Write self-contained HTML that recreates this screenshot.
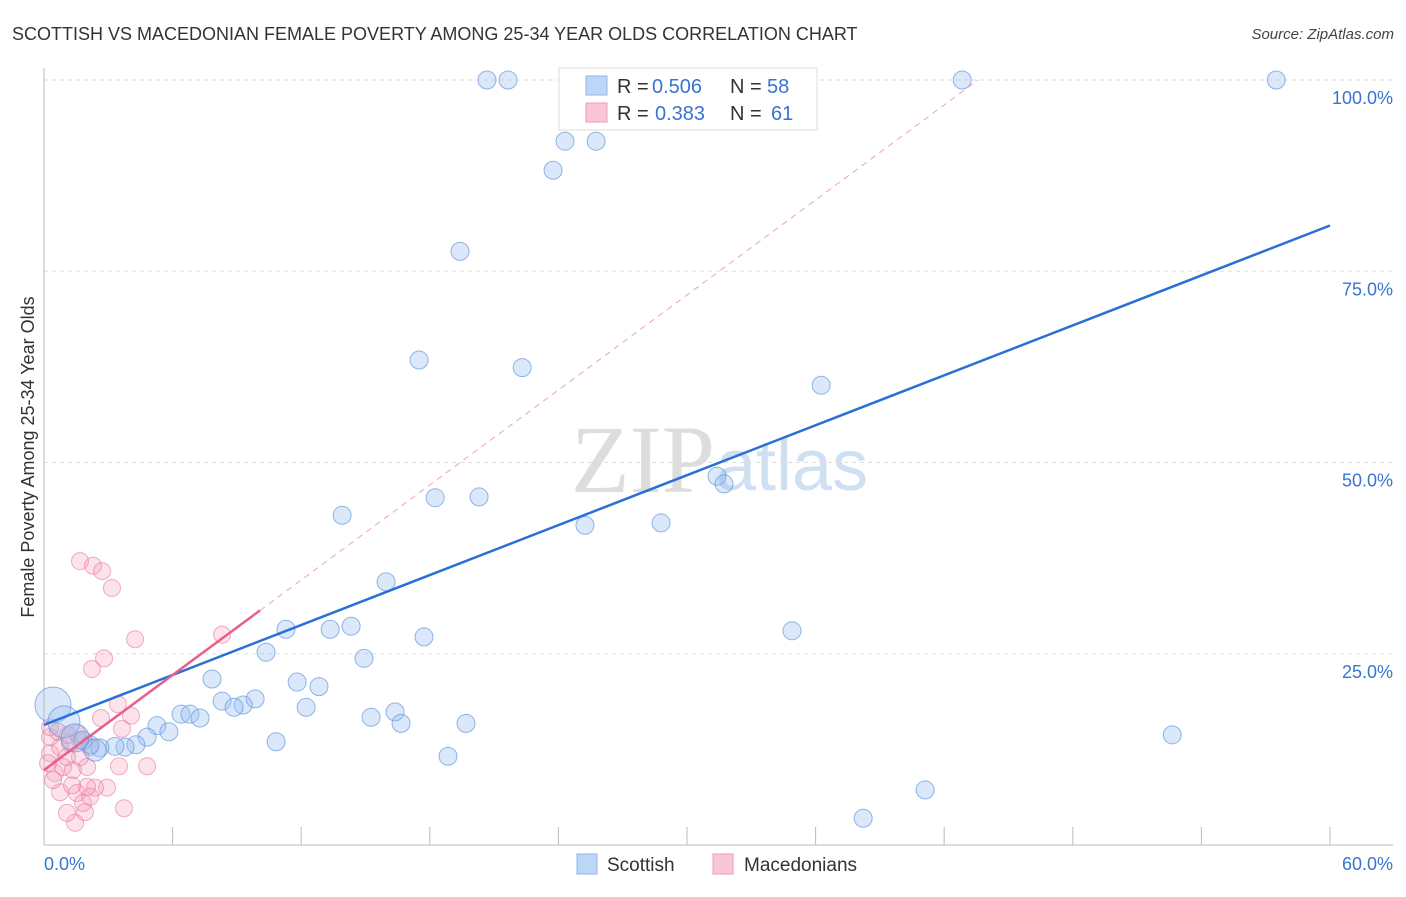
<!DOCTYPE html>
<html><head><meta charset="utf-8"><style>
body{margin:0;background:#fff;font-family:"Liberation Sans",sans-serif;}
</style></head><body>
<svg id="chart" width="1406" height="892" xmlns="http://www.w3.org/2000/svg" font-family="Liberation Sans, sans-serif">
<text x="12" y="40" font-size="18" fill="#333">SCOTTISH VS MACEDONIAN FEMALE POVERTY AMONG 25-34 YEAR OLDS CORRELATION CHART</text>
<text x="1394" y="39" font-size="15" fill="#444" font-style="italic" text-anchor="end">Source: ZipAtlas.com</text>
<text x="715" y="492" font-size="96" fill="#ddd" text-anchor="end" style="font-family:'Liberation Serif',serif">ZIP</text>
<text x="716" y="490" font-size="72" fill="#cfe0f3">atlas</text>
<g id="grid"></g>
<g id="axes"></g>
<g id="marks"></g>
<text transform="translate(34,457) rotate(-90)" font-size="18" fill="#333" text-anchor="middle">Female Poverty Among 25-34 Year Olds</text>
<g>
<rect x="559" y="68" width="258" height="62" fill="#fff" stroke="#ddd"/>
<rect x="586" y="76" width="21" height="19" fill="#bcd6f7" stroke="#8db5e8"/>
<text x="617" y="93" font-size="20" fill="#333">R =</text>
<text x="652" y="93" font-size="20" fill="#3a74d0">0.506</text>
<text x="730" y="93" font-size="20" fill="#333">N =</text>
<text x="767" y="93" font-size="20" fill="#3a74d0">58</text>
<rect x="586" y="103" width="21" height="19" fill="#f9c6d5" stroke="#ee9ab4"/>
<text x="617" y="120" font-size="20" fill="#333">R =</text>
<text x="655" y="120" font-size="20" fill="#3a74d0">0.383</text>
<text x="730" y="120" font-size="20" fill="#333">N =</text>
<text x="771" y="120" font-size="20" fill="#3a74d0">61</text>
</g>
<g>
<rect x="577" y="854" width="20" height="20" fill="#bcd6f7" stroke="#8db5e8"/>
<text x="607" y="871" font-size="19" fill="#333">Scottish</text>
<rect x="713" y="854" width="20" height="20" fill="#f9c6d5" stroke="#ee9ab4"/>
<text x="744" y="871" font-size="19" fill="#333">Macedonians</text>
</g>
</svg>
<script>
const blueX=[20.67,21.65,42.84,57.49,24.31,25.76,23.75,19.41,17.50,22.31,36.26,31.40,31.73,18.25,20.30,13.91,25.24,28.79,15.96,11.29,13.35,14.33,17.73,34.90,10.36,14.93,7.84,11.81,12.83,8.31,9.85,9.29,8.87,12.23,6.39,6.81,7.28,5.27,5.83,15.26,16.38,16.66,19.69,4.81,4.29,3.78,3.31,2.61,2.15,1.82,10.83,52.64,18.85,41.11,38.22,0.42,0.93,1.45,2.38];
const blueY=[100,100,100,100,92.0,92.0,88.2,77.6,63.4,62.4,60.1,48.2,47.2,45.4,45.5,43.1,41.8,42.1,34.4,28.2,28.2,28.6,27.2,28.0,25.2,24.4,21.7,21.3,20.7,18.8,19.1,18.3,18.0,18.0,17.1,17.1,16.6,15.6,14.8,16.7,17.4,15.9,15.9,14.1,13.1,12.8,12.9,12.7,13.1,13.7,13.5,14.4,11.6,7.2,3.5,18.3,16.1,14.0,12.4];
const blueR=[9,9,9,9,9,9,9,9,9,9,9,9,9,9,9,9,9,9,9,9,9,9,9,9,9,9,9,9,9,9,9,9,9,9,9,9,9,9,9,9,9,9,9,9,9,9,9,9,9,9,9,9,9,9,9,18,16,14,11];
const pinkX=[1.68,2.29,2.71,3.17,4.25,8.31,2.80,2.24,3.45,2.66,4.06,3.64,3.50,4.81,2.94,3.73,1.45,1.91,1.07,1.54,1.82,0.75,0.51,0.89,1.35,2.01,0.28,0.75,1.21,1.68,2.15,0.28,0.65,1.12,1.54,0.28,1.68,1.07,0.42,2.38,2.15,2.01,0.19,1.31];
const pinkY=[37.1,36.5,35.8,33.6,26.9,27.5,24.4,23.0,18.4,16.6,16.9,15.2,10.3,10.3,7.5,4.8,2.9,4.3,4.2,6.8,5.5,6.9,9.4,10.2,9.8,10.2,12.0,12.8,13.3,13.7,12.8,14.1,14.8,14.4,14.6,15.4,11.5,11.5,8.5,7.5,6.3,7.6,10.7,7.8];
const yTicks=[25,50,75,100];
const yTickLabels=["25.0%","50.0%","75.0%","100.0%"];
const xTicks=[0,6,12,18,24,30,36,42,48,54,60];
const blueLine=[15.7,1.088];
const pinkLine=[9.8,2.07];
const X0=44,X1=1330,Y0=845,Y100=80;
const xs=v=>X0+v*(X1-X0)/60;
const ys=v=>Y0-v*(Y0-Y100)/100;
const NS="http://www.w3.org/2000/svg";
function mk(parent,tag,attrs){const e=document.createElementNS(NS,tag);for(const k in attrs)e.setAttribute(k,attrs[k]);document.getElementById(parent).appendChild(e);return e;}
yTicks.forEach((t,i)=>{
  const g=mk('grid','line',{x1:X0,x2:1393,y1:ys(t),y2:ys(t),stroke:'#ddd','stroke-dasharray':'4,4'});
  
  
  const l=mk('axes','text',{x:1393,y:ys(t)+24,'font-size':18,fill:'#3a74d0','text-anchor':'end'});
  l.textContent=yTickLabels[i];
  
  
});
const ax=mk('axes','line',{x1:X0,x2:1393,y1:Y0,y2:Y0,stroke:'#bbb'});


const ay=mk('axes','line',{x1:X0,x2:X0,y1:68,y2:Y0,stroke:'#bbb'});


xTicks.forEach(t=>{
  const tk=mk('axes','line',{x1:xs(t),x2:xs(t),y1:Y0,y2:Y0-18,stroke:'#bbb'});
  
  
});
[[0,"0.0%",'start',X0],[60,"60.0%",'end',1393]].forEach(a=>{
  const l=mk('axes','text',{x:a[3],y:870,'font-size':18,fill:'#3a74d0','text-anchor':a[2]});
  l.textContent=a[1];
  
  
});
pinkX.forEach((x,i)=>{
  const c=mk('marks','circle',{cx:xs(x),cy:ys(pinkY[i]),r:8.5,fill:'rgba(245,160,185,0.3)',stroke:'rgba(232,110,150,0.55)'});
  
  
});
blueX.forEach((x,i)=>{
  const c=mk('marks','circle',{cx:xs(x),cy:ys(blueY[i]),r:blueR[i],fill:'rgba(150,190,240,0.35)',stroke:'rgba(90,145,220,0.65)'});
  
  
});
const bl=mk('marks','line',{x1:xs(0),y1:ys(blueLine[0]),x2:xs(60),y2:ys(blueLine[0]+blueLine[1]*60),stroke:'#2a6fd6','stroke-width':2.5});


const xEnd=(100-pinkLine[0])/pinkLine[1];
const pd=mk('marks','line',{x1:xs(10.08),y1:ys(pinkLine[0]+pinkLine[1]*10.08),x2:xs(xEnd),y2:ys(100),stroke:'#eba3b8','stroke-width':1,'stroke-dasharray':'6,5'});


const pl=mk('marks','line',{x1:xs(0),y1:ys(pinkLine[0]),x2:xs(10.08),y2:ys(pinkLine[0]+pinkLine[1]*10.08),stroke:'#e8608a','stroke-width':2.5});


</script>
</body></html>
